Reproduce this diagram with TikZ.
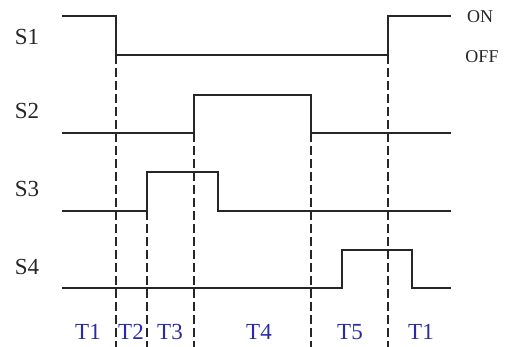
\documentclass[tikz,border=0pt]{standalone}
\usepackage{fontspec}
\setmainfont{Liberation Serif}
\definecolor{tblue}{HTML}{2A2AA8}
\begin{document}
\begin{tikzpicture}[x=1pt,y=-1pt,
  wave/.style={line width=1.7pt, black!85},
  guide/.style={line width=1.5pt, black!85, dash pattern=on 9pt off 4pt},
  siglabel/.style={font=\fontsize{23}{23}\selectfont, text=black!85, inner sep=0pt},
  statelabel/.style={font=\fontsize{18}{18}\selectfont, text=black!85, inner sep=0pt},
  phase/.style={font=\fontsize{23}{23}\selectfont, text=tblue, inner sep=0pt}]
\useasboundingbox (0,0) rectangle (505,347);
\fill[white] (0,0) rectangle (505,347);

% signal names
\node[siglabel] (s1) at (27,37) {S1};
\node[siglabel] (s2) at (27,111) {S2};
\node[siglabel] (s3) at (27,189) {S3};
\node[siglabel] (s4) at (27,267) {S4};

% level names
\node[statelabel] (on) at (480,17) {ON};
\node[statelabel] (off) at (482,57) {OFF};

% waveforms
\draw[wave] (62,16) -- (116,16) -- (116,55) -- (388,55) -- (388,16) -- (451,16);
\draw[wave] (62,133) -- (194,133) -- (194,95) -- (311,95) -- (311,133) -- (451,133);
\draw[wave] (62,211) -- (147,211) -- (147,172) -- (218,172) -- (218,211) -- (451,211);
\draw[wave] (62,288) -- (342,288) -- (342,250) -- (412,250) -- (412,288) -- (451,288);

% phase boundaries
\draw[guide] (116,55) -- (116,347);
\draw[guide] (147,211) -- (147,347);
\draw[guide] (194,133) -- (194,347);
\draw[guide] (311,133) -- (311,347);
\draw[guide] (388,55) -- (388,347);

% phase names
\node[phase] (t1a) at (88,332) {T1};
\node[phase] (t2) at (131,332) {T2};
\node[phase] (t3) at (170,332) {T3};
\node[phase] (t4) at (259,332) {T4};
\node[phase] (t5) at (350,332) {T5};
\node[phase] (t1b) at (421,332) {T1};
\end{tikzpicture}
\end{document}
